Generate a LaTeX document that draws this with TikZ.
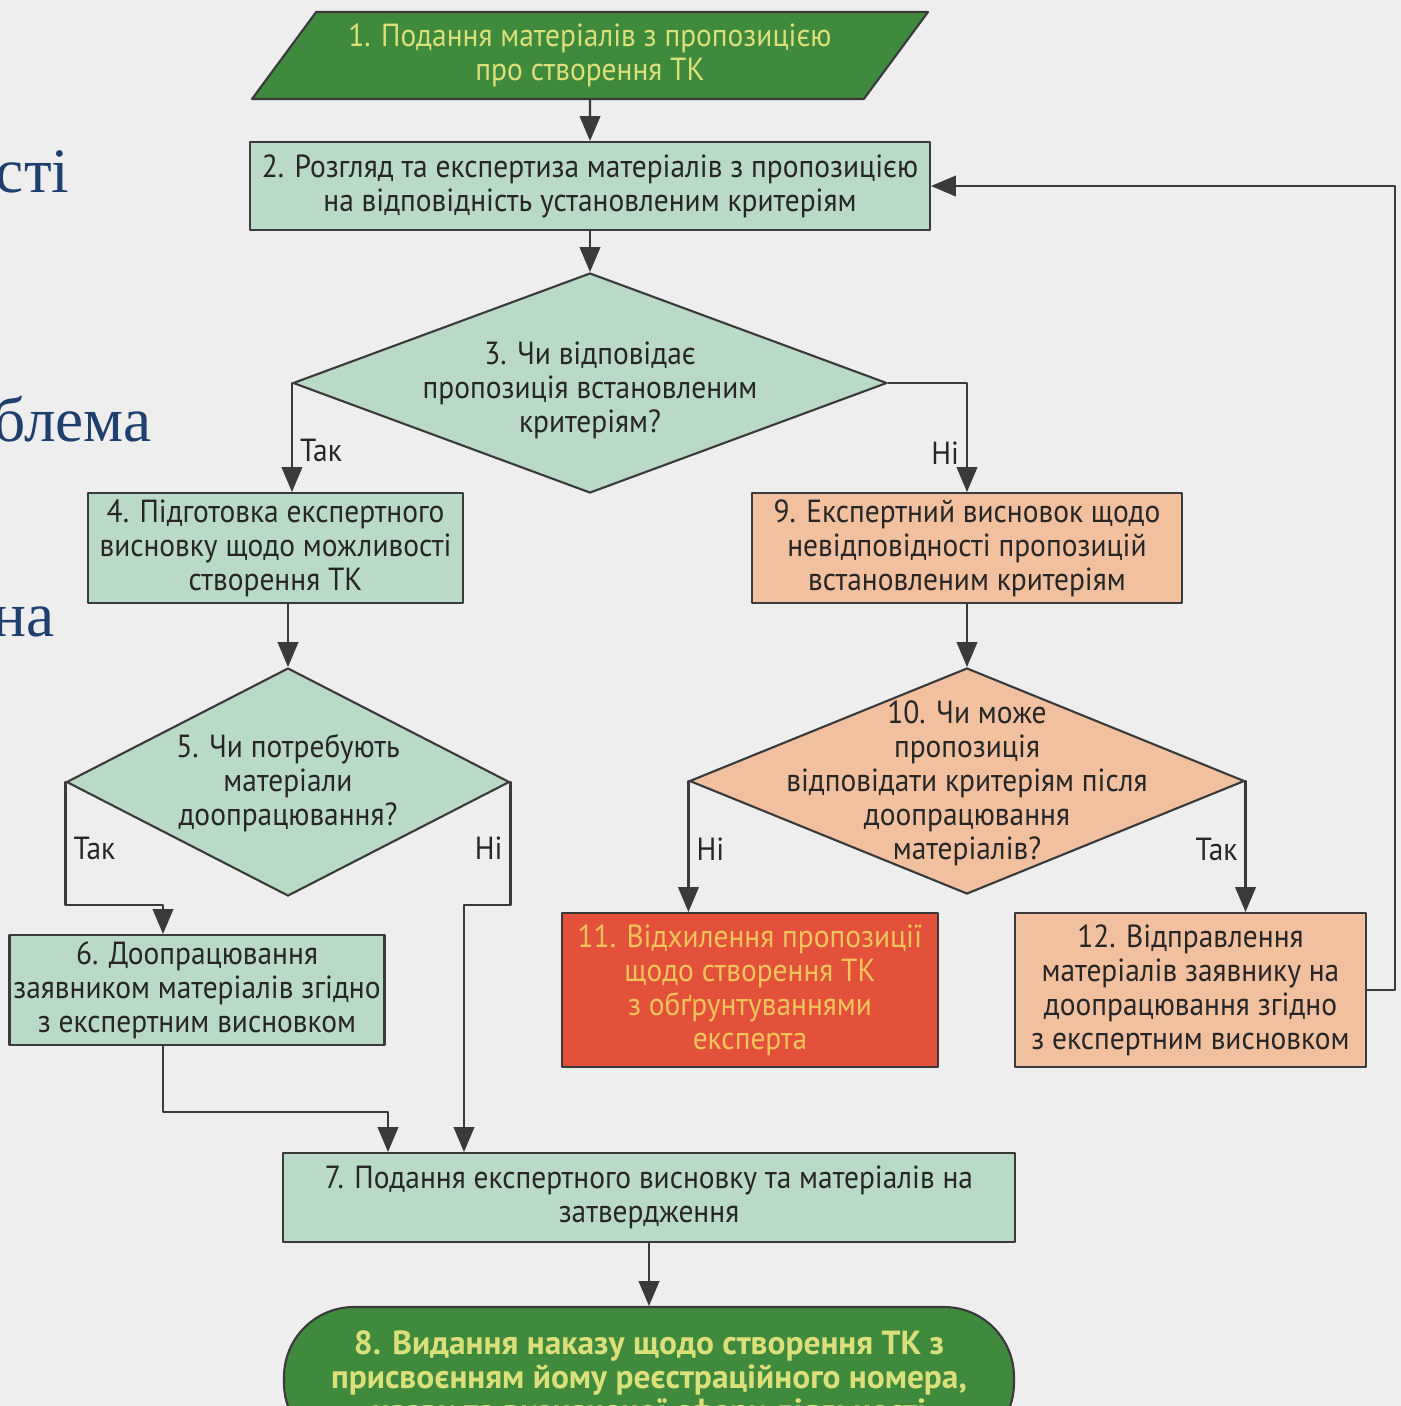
\documentclass[tikz,border=0pt]{standalone}
\usepackage{fontspec}
\usepackage{tikz}
\usetikzlibrary{arrows}
\usetikzlibrary{shapes.geometric}
\newfontfamily\boxfont[FakeStretch=0.92]{PT Sans}
\newfontfamily\headfont{PT Sans}
\newfontfamily\slidefont{Liberation Serif}
\definecolor{paper}{HTML}{EEEEEE}
\definecolor{ink}{HTML}{3A3A3A}
\definecolor{txt}{HTML}{262626}
\definecolor{mint}{HTML}{B9DAC6}
\definecolor{leaf}{HTML}{3F8A3C}
\definecolor{peach}{HTML}{F1C19F}
\definecolor{brick}{HTML}{E4513A}
\definecolor{straw}{HTML}{DCE07A}
\definecolor{gold}{HTML}{F0C45A}
\definecolor{navy}{HTML}{1F3F6E}

\begin{document}
\begin{tikzpicture}[line cap=round,line join=round,>=triangle 45,x=0.1mm,y=-0.1mm,
  font=\boxfont\fontsize{9.1}{9.7}\selectfont,
  box/.style={draw=ink,line width=0.6pt,fill=mint,text=txt,align=center,inner sep=0pt},
  dec/.style={shape=diamond,draw=ink,line width=0.6pt,fill=mint,inner sep=0pt},
  dectext/.style={text=txt,align=center,inner sep=0pt},
  lbl/.style={text=txt,inner sep=2pt},
  slide/.style={text=navy,font=\slidefont\fontsize{18}{22}\selectfont,anchor=base east,inner sep=0pt},
  conn/.style={->,draw=ink,line width=0.6pt}]
\useasboundingbox (0,0) rectangle (1401,1406);
\fill [paper] (0,0) rectangle (1401,1406);

\node [slide] (w1) at (70,192) {сті};
\node [slide] (w2) at (152,441) {блема};
\node [slide] (w3) at (55,636) {на};

\node [box,shape=trapezium,trapezium left angle=44.6,trapezium right angle=135.4,trapezium stretches body,
  minimum width=67.6mm,minimum height=8.7mm,fill=leaf,text=straw] (n1) at (590,55.5)
  {1. Подання матеріалів з пропозицією\\про створення ТК};
\node [box,minimum width=68mm,minimum height=8.8mm] (n2) at (590,186)
  {2. Розгляд та експертиза матеріалів з пропозицією\\на відповідність установленим критеріям};
\node [dec,minimum width=59.4mm,minimum height=22mm] (d3) at (590,383) {};
\node [dectext] (t3) at (590,390) {3. Чи відповідає\\пропозиція встановленим\\критеріям?};
\node [box,minimum width=37.5mm,minimum height=11mm] (n4) at (275.5,548)
  {4. Підготовка експертного\\висновку щодо можливості\\створення ТК};
\node [dec,minimum width=44.3mm,minimum height=22.8mm] (d5) at (288,782) {};
\node [dectext] (t5) at (288,783) {5. Чи потребують\\матеріали\\доопрацювання?};
\node [box,minimum width=37.5mm,minimum height=11mm] (n6) at (197,990)
  {6. Доопрацювання\\заявником матеріалів згідно\\з експертним висновком};
\node [box,minimum width=73.2mm,minimum height=8.9mm] (n7) at (649,1197.5)
  {7. Подання експертного висновку та матеріалів на\\затвердження};
\node [box,minimum width=73mm,minimum height=14.6mm,rounded corners=7mm,fill=leaf,text=straw,
  font=\headfont\fontsize{9.5}{9.7}\selectfont\bfseries] (n8) at (649,1380)
  {8. Видання наказу щодо створення ТК з\\присвоєнням йому реєстраційного номера,\\назви та визначеної сфери діяльності};
\node [box,minimum width=43mm,minimum height=11mm,fill=peach] (n9) at (967,548)
  {9. Експертний висновок щодо\\невідповідності пропозицій\\встановленим критеріям};
\node [dec,minimum width=55.5mm,minimum height=22.6mm,fill=peach] (d10) at (967,781) {};
\node [dectext] (t10) at (967,783) {10. Чи може\\пропозиція\\відповідати критеріям після\\доопрацювання\\матеріалів?};
\node [box,minimum width=37.6mm,minimum height=15.4mm,fill=brick,text=gold] (n11) at (750,990)
  {11. Відхилення пропозиції\\щодо створення ТК\\з обґрунтуваннями\\експерта};
\node [box,minimum width=35.1mm,minimum height=15.4mm,fill=peach] (n12) at (1190.5,990)
  {12. Відправлення\\матеріалів заявнику на\\доопрацювання згідно\\з експертним висновком};

\coordinate (tak5) at (163,905);
\coordinate (ni5) at (464,905);
\coordinate (j6) at (388,1112);
\coordinate (loop) at (1395,186);

\draw [conn] (n1) -- (n2);
\draw [conn] (n2) -- (d3);
\draw [conn] (d3.west) -- node[lbl,pos=0.62,right] (tak3) {Так} (d3.west |- n4.north);
\draw [conn] (d3.east) -| node[lbl,pos=0.82,left] (ni3) {Ні} (n9.north);
\draw [conn] (d5.north |- n4.south) -- (d5.north);
\draw [conn] (d5.west) |- node[lbl,pos=0.27,right] (tak5l) {Так} (tak5) -- (tak5 |- n6.north);
\draw [conn] (d5.east) |- node[lbl,pos=0.27,left] (ni5l) {Ні} (ni5) -- (ni5 |- n7.north);
\draw [conn] (tak5 |- n6.south) |- (j6) -- (j6 |- n7.north);
\draw [conn] (n7) -- (n8);
\draw [conn] (n9) -- (d10);
\draw [conn] (d10.west) -- node[lbl,pos=0.52,right] (ni10) {Ні} (d10.west |- n11.north);
\draw [conn] (d10.east) -- node[lbl,pos=0.52,left] (tak10) {Так} (d10.east |- n12.north);
\draw [conn] (n12.east) -| (loop) -- (n2.east);
\end{tikzpicture}
\end{document}
